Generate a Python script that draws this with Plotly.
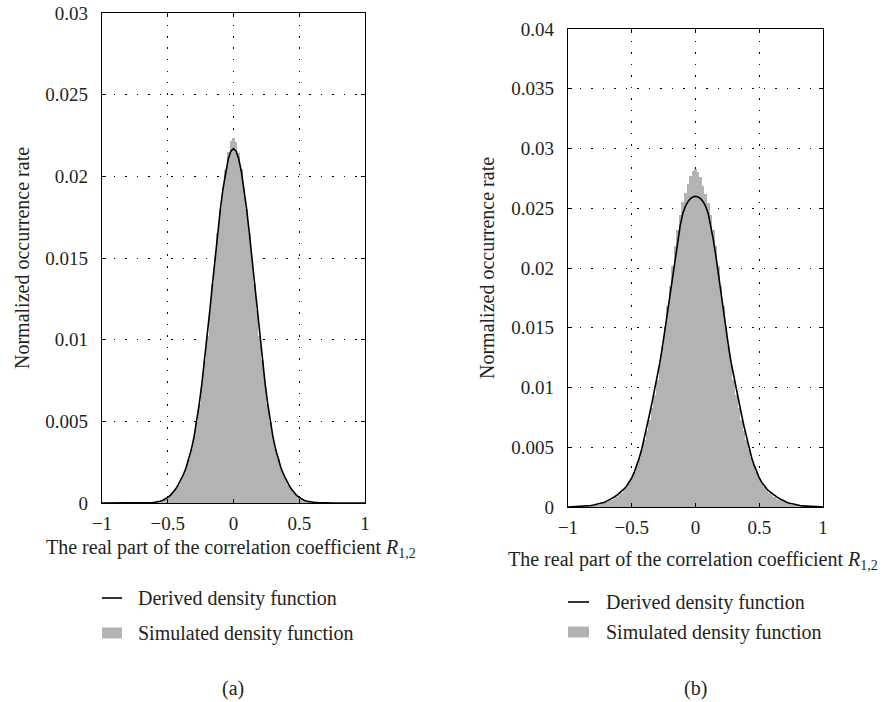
import numpy as np
import plotly.graph_objects as go

# ---------------- data ----------------
# x grid (bin centres / evaluation points of the real part of R_1,2)
r_grid = np.round(np.linspace(-1.0, 1.0, 101), 2)

x_ticks = [-1, -0.5, 0, 0.5, 1]
x_ticktext = ["\u22121", "\u22120.5", "0", "0.5", "1"]
ya_ticks = [0, 0.005, 0.01, 0.015, 0.02, 0.025, 0.03]
ya_ticktext = ["0", "0.005", "0.01", "0.015", "0.02", "0.025", "0.03"]
yb_ticks = [0, 0.005, 0.01, 0.015, 0.02, 0.025, 0.03, 0.035, 0.04]
yb_ticktext = ["0", "0.005", "0.01", "0.015", "0.02", "0.025", "0.03", "0.035", "0.04"]

# panel (a): derived density (black curve)
derived_a = [
    0, 0, 0, 0, 0, 0, 0, 0, 0, 0, 0, 0, 0, 0, 0, 0,
    0.00001, 0.00001, 0.00002, 0.00003, 0.00005, 0.00007, 0.00011, 0.00016, 0.00024, 0.00034,
    0.00047, 0.00064, 0.00085, 0.00112, 0.00142, 0.00176, 0.00217, 0.00268, 0.00330, 0.00405,
    0.00496, 0.00608, 0.00734, 0.00873, 0.01022, 0.01179, 0.01340, 0.01501, 0.01655, 0.01798,
    0.01924, 0.02028, 0.02106, 0.02154,
    0.02170,
    0.02154, 0.02106, 0.02028, 0.01924,
    0.01798, 0.01655, 0.01501, 0.01340, 0.01179, 0.01022, 0.00873, 0.00734, 0.00608, 0.00496,
    0.00405, 0.00330, 0.00268, 0.00217, 0.00176, 0.00142, 0.00112, 0.00085, 0.00064, 0.00047,
    0.00034, 0.00024, 0.00016, 0.00011, 0.00007, 0.00005, 0.00003, 0.00002, 0.00001, 0.00001,
    0, 0, 0, 0, 0, 0, 0, 0, 0, 0, 0, 0, 0, 0, 0, 0,
]
# panel (a): simulated density (grey histogram)
simulated_a = [
    0, 0, 0, 0, 0, 0, 0, 0, 0, 0, 0, 0, 0, 0, 0, 0,
    0.00001, 0.00001, 0.00002, 0.00003, 0.00005, 0.00007, 0.00011, 0.00016, 0.00024, 0.00035,
    0.00048, 0.00065, 0.00086, 0.00112, 0.00143, 0.00177, 0.00217, 0.00268, 0.00331, 0.00406,
    0.00497, 0.00607, 0.00735, 0.00872, 0.01021, 0.01180, 0.01338, 0.01502, 0.01656, 0.01800,
    0.01930, 0.02040, 0.02150, 0.02215,
    0.02235,
    0.02208, 0.02140, 0.02045, 0.01928,
    0.01800, 0.01655, 0.01501, 0.01339, 0.01178, 0.01021, 0.00873, 0.00733, 0.00607, 0.00495,
    0.00405, 0.00330, 0.00268, 0.00217, 0.00176, 0.00142, 0.00112, 0.00085, 0.00064, 0.00047,
    0.00034, 0.00024, 0.00016, 0.00011, 0.00007, 0.00005, 0.00003, 0.00002, 0.00001, 0.00001,
    0, 0, 0, 0, 0, 0, 0, 0, 0, 0, 0, 0, 0, 0, 0, 0,
]

# panel (b): derived density (black curve)
derived_b = [
    0, 0.00001, 0.00001, 0.00002, 0.00003, 0.00004, 0.00005, 0.00007, 0.00009, 0.00012,
    0.00016, 0.00020, 0.00025, 0.00031, 0.00038, 0.00047, 0.00057, 0.00069, 0.00082, 0.00096,
    0.00112, 0.00130, 0.00151, 0.00176, 0.00206, 0.00244, 0.00292, 0.00350, 0.00415, 0.00492,
    0.00582, 0.00678, 0.00778, 0.00880, 0.00985, 0.01090, 0.01205, 0.01335, 0.01480, 0.01630,
    0.01785, 0.01940, 0.02100, 0.02235, 0.02355, 0.02455, 0.02515, 0.02555, 0.02580, 0.02595,
    0.02600,
    0.02595, 0.02580, 0.02555, 0.02515, 0.02455, 0.02355, 0.02235, 0.02100, 0.01940, 0.01785,
    0.01630, 0.01480, 0.01335, 0.01205, 0.01090, 0.00985, 0.00880, 0.00778, 0.00678, 0.00582,
    0.00492, 0.00415, 0.00350, 0.00292, 0.00244, 0.00206, 0.00176, 0.00151, 0.00130, 0.00112,
    0.00096, 0.00082, 0.00069, 0.00057, 0.00047, 0.00038, 0.00031, 0.00025, 0.00020, 0.00016,
    0.00012, 0.00009, 0.00007, 0.00005, 0.00004, 0.00003, 0.00002, 0.00001, 0.00001, 0,
]
# panel (b): simulated density (grey histogram)
simulated_b = [
    0, 0.00001, 0.00001, 0.00002, 0.00003, 0.00004, 0.00006, 0.00008, 0.0001, 0.0001,
    0.00015, 0.0002, 0.0002, 0.0003, 0.0003, 0.0004, 0.0005, 0.0006, 0.0007, 0.0008,
    0.0010, 0.0012, 0.0014, 0.0017, 0.0020, 0.0024, 0.0029, 0.0035, 0.0041, 0.0048,
    0.0056, 0.0064, 0.0073, 0.0083, 0.0094, 0.0106, 0.0120, 0.0135, 0.0151, 0.0168,
    0.0185, 0.0202, 0.0218, 0.0232, 0.0244, 0.0255, 0.0263, 0.0270, 0.0277, 0.0281,
    0.0283,
    0.0280, 0.0276, 0.0269, 0.0262, 0.0254, 0.0244, 0.0232, 0.0218, 0.0202, 0.0185,
    0.0168, 0.0151, 0.0135, 0.0120, 0.0106, 0.0094, 0.0083, 0.0073, 0.0064, 0.0056,
    0.0048, 0.0041, 0.0035, 0.0029, 0.0024, 0.0020, 0.0017, 0.0014, 0.0012, 0.0010,
    0.0008, 0.0007, 0.0006, 0.0005, 0.0004, 0.0003, 0.0003, 0.0002, 0.0002, 0.00015,
    0.0001, 0.0001, 0.00008, 0.00006, 0.00004, 0.00003, 0.00002, 0.00001, 0.00001, 0,
]

# ---------------- styling ----------------
W, H = 892, 702
FONT = "Liberation Serif"
TXT = "#231f20"
GREY = "#b3b3b3"
FS_TICK = 19
FS = 20


def px(x):
    return x / W


def py(y):
    return 1 - y / H


fig = go.Figure()

for hist, curve, xa, ya in [(simulated_a, derived_a, "x", "y"), (simulated_b, derived_b, "x2", "y2")]:
    fig.add_trace(go.Bar(x=r_grid, y=hist, width=0.02, marker=dict(color=GREY, line=dict(width=0)),
                         xaxis=xa, yaxis=ya, showlegend=False, hoverinfo="skip"))
    fig.add_trace(go.Scatter(x=r_grid, y=curve, mode="lines", line=dict(color="black", width=1.6),
                             xaxis=xa, yaxis=ya, showlegend=False))

axis_common = dict(
    showgrid=True, gridcolor="black", gridwidth=1, griddash="1.5px,10px",
    showline=True, linecolor="black", linewidth=1.3, mirror="allticks",
    ticks="inside", ticklen=4, tickcolor="black", tickwidth=1.2,
    zeroline=False, automargin=False, tickfont=dict(family=FONT, size=FS_TICK, color=TXT),
)

fig.update_layout(
    template="none",
    width=W, height=H, margin=dict(l=0, r=0, t=0, b=0, pad=0, autoexpand=False),
    paper_bgcolor="white", plot_bgcolor="white", bargap=0, showlegend=False,
    font=dict(family=FONT, color=TXT),
    xaxis=dict(domain=[px(102), px(365)], range=[-1, 1], tickvals=x_ticks, ticktext=x_ticktext,
               anchor="y", ticklabelstandoff=3, **axis_common),
    yaxis=dict(domain=[py(503), py(13)], range=[0, 0.03], tickvals=ya_ticks, ticktext=ya_ticktext,
               anchor="x", ticklabelstandoff=9, **axis_common),
    xaxis2=dict(domain=[px(568), px(823)], range=[-1, 1], tickvals=x_ticks, ticktext=x_ticktext,
                anchor="y2", ticklabelstandoff=3, **axis_common),
    yaxis2=dict(domain=[py(507), py(29)], range=[0, 0.04], tickvals=yb_ticks, ticktext=yb_ticktext,
                anchor="x2", ticklabelstandoff=9, **axis_common),
)

ann = []
xtitle = "The real part of the correlation coefficient <i>R</i><sub>1,2</sub>"
ytitle = "Normalized occurrence rate"
# axis titles
ann.append(dict(x=px(231), y=py(548), text=xtitle, xanchor="center", yanchor="middle"))
ann.append(dict(x=px(693), y=py(560), text=xtitle, xanchor="center", yanchor="middle"))
ann.append(dict(x=px(22), y=py(258), text=ytitle, textangle=-90, xanchor="center", yanchor="middle"))
ann.append(dict(x=px(487), y=py(268), text=ytitle, textangle=-90, xanchor="center", yanchor="middle"))
# legends text
legend_rows = [
    (136, 598, "Derived density function"),
    (136, 633, "Simulated density function"),
    (604, 602, "Derived density function"),
    (604, 632, "Simulated density function"),
]
for x0, y0, t in legend_rows:
    ann.append(dict(x=px(x0), y=py(y0), text=t, xanchor="left", yanchor="middle"))
# panel labels
ann.append(dict(x=px(233), y=py(688), text="(a)", xanchor="center", yanchor="middle"))
ann.append(dict(x=px(695), y=py(688), text="(b)", xanchor="center", yanchor="middle"))

for a in ann:
    a.update(xref="paper", yref="paper", showarrow=False,
             font=dict(family=FONT, size=FS, color=TXT))
fig.update_layout(annotations=ann)

shapes = []
# legend symbols
for x0, x1, yl, yb in [(102, 122, 598, 633), (568, 589, 602, 632)]:
    shapes.append(dict(type="line", xref="paper", yref="paper", x0=px(x0), x1=px(x1),
                       y0=py(yl), y1=py(yl), line=dict(color="black", width=1.6)))
    shapes.append(dict(type="rect", xref="paper", yref="paper", x0=px(x0), x1=px(x1),
                       y0=py(yb + 5.5), y1=py(yb - 5.5), line=dict(width=0), fillcolor=GREY))
fig.update_layout(shapes=shapes)

fig.write_html("out.html")
